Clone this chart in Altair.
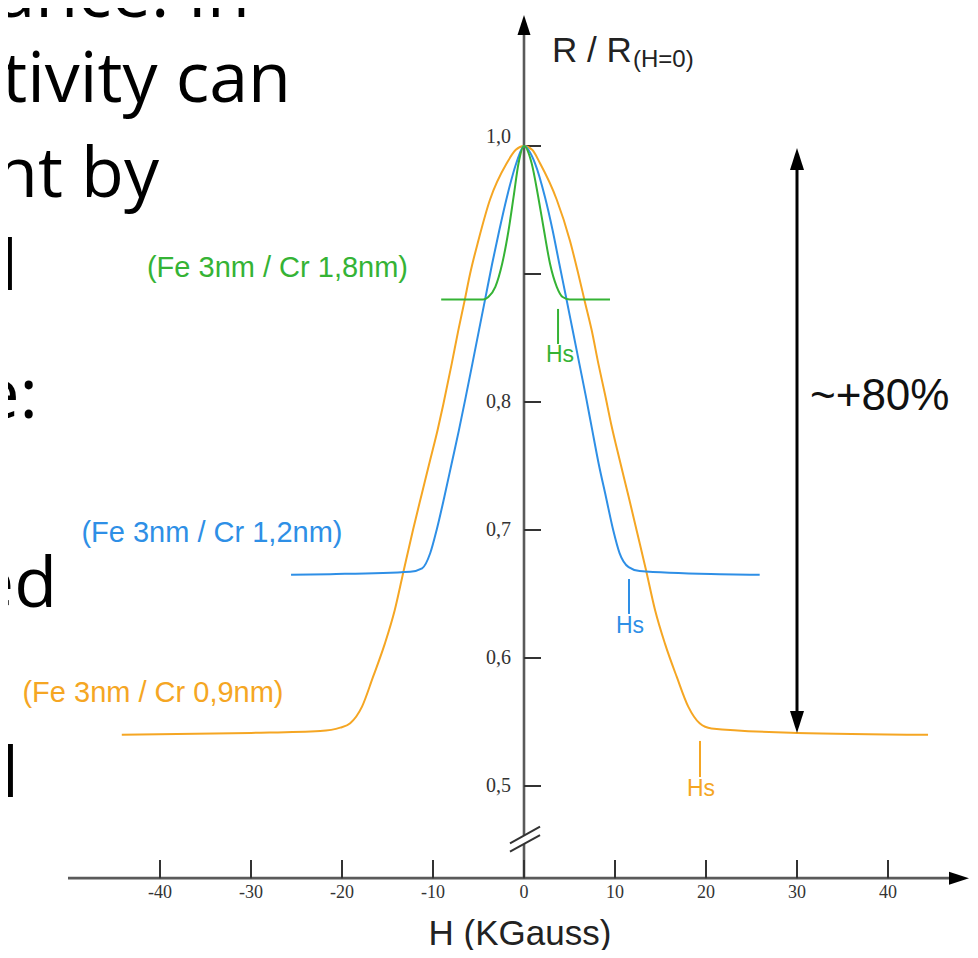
import altair as alt
import pandas as pd

# ---------------- data ----------------
SERIES = ["Cr 0,9nm", "Cr 1,2nm", "Cr 1,8nm"]
COLORS = ["#F5A623", "#2E8FE6", "#35B335"]

# (Fe 3nm / Cr 0,9nm)  orange
orange_H = [-44.2, -30.0, -22.4, -20.2, -19.1, -17.8, -16.6, -15.3, -14.2, -13.2, -12.2, -11.24,
            -10.3, -9.5, -8.87, -7.94, -7.22, -6.56, -5.93, -5.02, -3.74, -1.9, -0.9, 0.0,
            0.9, 1.76, 3.6, 5.05, 5.97, 6.7, 7.44, 8.17, 8.9, 9.6, 10.5, 11.5, 12.4, 13.4,
            14.4, 15.5, 16.8, 18.05, 19.3, 20.6, 30.0, 44.4]
orange_R = [0.540, 0.5415, 0.543, 0.5456, 0.549, 0.562, 0.585, 0.611, 0.6375, 0.669, 0.700, 0.728,
            0.755, 0.778, 0.798, 0.830, 0.856, 0.878, 0.900, 0.926, 0.958, 0.9865, 0.997, 1.0,
            0.997, 0.9865, 0.958, 0.926, 0.900, 0.878, 0.856, 0.830, 0.806, 0.782, 0.755, 0.726,
            0.699, 0.669, 0.6375, 0.611, 0.585, 0.562, 0.549, 0.545, 0.5415, 0.540]

# (Fe 3nm / Cr 1,2nm)  blue
blue_H = [-25.6, -21.3, -12.5, -11.2, -10.3, -9.6, -8.75, -7.95, -7.15, -6.4, -5.67, -4.95, -4.28,
          -3.5, -2.72, -1.88, -0.85, 0.0, 1.21, 2.31, 3.15, 3.88, 4.62, 5.35, 6.08, 6.81, 7.5,
          8.2, 9.0, 9.8, 10.5, 11.5, 12.7, 21.5, 25.9]
blue_R = [0.665, 0.6655, 0.6674, 0.670, 0.682, 0.700, 0.726, 0.752, 0.778, 0.804, 0.830, 0.856, 0.880,
          0.908, 0.934, 0.960, 0.9865, 1.0, 0.9865, 0.960, 0.934, 0.908, 0.882, 0.856, 0.830, 0.804,
          0.778, 0.752, 0.726, 0.700, 0.682, 0.671, 0.668, 0.6655, 0.665]

# (Fe 3nm / Cr 1,8nm)  green
green_H = [-9.1, -4.5, -3.92, -3.15, -2.4, -1.7, -1.15, -0.6, 0.0, 0.84, 1.57, 2.2, 2.86, 3.6, 4.25, 5.05, 9.45]
green_R = [0.880, 0.880, 0.882, 0.890, 0.908, 0.934, 0.960, 0.9865, 1.0, 0.9865, 0.960, 0.934, 0.908,
           0.890, 0.882, 0.880, 0.880]

series_labels = ["(Fe 3nm / Cr 0,9nm)", "(Fe 3nm / Cr 1,2nm)", "(Fe 3nm / Cr 1,8nm)"]
label_H = [-40.77, -34.29, -27.09]
label_R = [0.5727, 0.6977, 0.9047]

hs_H = [19.34, 11.54, 3.74]
hs_top_R = [0.5352, 0.6617, 0.8727]
hs_bot_R = [0.5070, 0.6344, 0.8453]
hs_text_H = [19.45, 11.65, 3.96]
hs_text_R = [0.4977, 0.625, 0.8367]

x_ticks = [-40, -30, -20, -10, 0, 10, 20, 30, 40]
x_tick_labels = ["-40", "-30", "-20", "-10", "0", "10", "20", "30", "40"]
y_ticks = [0.5, 0.6, 0.7, 0.8, 0.9, 1.0]
y_tick_labels = ["0,5", "0,6", "0,7", "0,8", "", "1,0"]
y_label_R = [0.5, 0.6, 0.7, 0.8, 0.9, 1.007]

# background slide text fragments (cut off at the left edge)
slide_text = ["ance. In", "tivity can", "nt by", "l", "e:", "ed", "l"]
slide_H = [-30.11, -25.60, -40.11, -55.60, -53.41, -51.32, -55.50]
slide_R = [1.1008, 1.0344, 0.9602, 0.8875, 0.7875, 0.6398, 0.4914]

# ---------------- scales ----------------
W, H_PX = 962, 942
X_DOMAIN = [(8 - 524) / 9.1, (8 + W - 524) / 9.1]
Y_DOMAIN = [1 - (8 + H_PX - 146) / 1280, 1 + (146 - 8) / 1280]
xs = alt.Scale(domain=X_DOMAIN, nice=False, zero=False)
ys = alt.Scale(domain=Y_DOMAIN, nice=False, zero=False)
color = alt.Color("series:N", scale=alt.Scale(domain=SERIES, range=COLORS), legend=None)


def X(f="H"):
    return alt.X(f"{f}:Q", scale=xs, axis=None)


def Y(f="R"):
    return alt.Y(f"{f}:Q", scale=ys, axis=None)


def pts(H, R, name):
    return pd.DataFrame({"H": H, "R": R, "series": name, "i": list(range(len(H)))})


curves = pd.concat([pts(orange_H, orange_R, SERIES[0]),
                    pts(blue_H, blue_R, SERIES[1]),
                    pts(green_H, green_R, SERIES[2])])

lines = alt.Chart(curves).mark_line(interpolate="monotone", strokeWidth=2).encode(
    x=X(), y=Y(), color=color, detail="series:N", order="i:Q")


def segs(rows):
    return pd.DataFrame(rows, columns=["H", "R", "H2", "R2"])


def rule_layer(df, **kw):
    return alt.Chart(df).mark_rule(**kw).encode(x=X("H"), y=Y("R"), x2="H2:Q", y2="R2:Q")


# axes lines
axis_df = segs([
    (-50.11, 0.428, 48.0, 0.428),      # x axis
    (0.0, 1.09, 0.0, 0.4617),          # y axis upper part
    (0.0, 0.4547, 0.0, 0.428),         # y axis below the break
])
axes = rule_layer(axis_df, color="#5a5a5a", strokeWidth=2.6)

tick_df = segs([(t, 0.428, t, 0.4422) for t in x_ticks] + [(0.0, v, 1.87, v) for v in y_ticks])
ticks = rule_layer(tick_df, color="#333333", strokeWidth=2)

break_df = segs([(-1.54, 0.4552, 1.76, 0.4682), (-1.54, 0.4487, 1.76, 0.4617)])
breaks = rule_layer(break_df, color="#333333", strokeWidth=2)

# Hs markers
hs_df = pd.DataFrame({"H": hs_H, "R": hs_top_R, "R2": hs_bot_R, "series": SERIES})
hs_rules = alt.Chart(hs_df).mark_rule(strokeWidth=2).encode(
    x=X("H"), y=Y("R"), y2="R2:Q", color=color)
hs_text_df = pd.DataFrame({"H": hs_text_H, "R": hs_text_R, "series": SERIES, "t": ["Hs"] * 3})
hs_text = alt.Chart(hs_text_df).mark_text(font="Liberation Sans", fontSize=23, align="center",
                                           baseline="middle").encode(
    x=X("H"), y=Y("R"), text="t:N", color=color)

# series labels
lab_df = pd.DataFrame({"H": label_H, "R": label_R, "series": SERIES, "t": series_labels})
labels = alt.Chart(lab_df).mark_text(font="Liberation Sans", fontSize=29, align="center",
                                     baseline="middle").encode(
    x=X("H"), y=Y("R"), text="t:N", color=color)

# arrow heads
up_df = pd.DataFrame({"H": [0.0], "R": [1.1023]})
up_arrow = alt.Chart(up_df).mark_point(shape="M0,0 L-0.65,2 L0.65,2 Z", size=400, filled=True,
                                       color="black", opacity=1).encode(x=X(), y=Y())
right_df = pd.DataFrame({"H": [48.9], "R": [0.428]})
right_arrow = alt.Chart(right_df).mark_point(shape="M0,0 L-2,-0.65 L-2,0.65 Z", size=400, filled=True,
                                             color="black", opacity=1).encode(x=X(), y=Y())

# ~+80% double arrow
gmr_df = segs([(30.0, 0.985, 30.0, 0.555)])
gmr_shaft = rule_layer(gmr_df, color="black", strokeWidth=3)
gmr_top = alt.Chart(pd.DataFrame({"H": [30.0], "R": [0.9984]})).mark_point(
    shape="M0,0 L-0.7,2.2 L0.7,2.2 Z", size=400, filled=True, color="black", opacity=1).encode(x=X(), y=Y())
gmr_bot = alt.Chart(pd.DataFrame({"H": [30.0], "R": [0.5414]})).mark_point(
    shape="M0,0 L-0.7,-2.2 L0.7,-2.2 Z", size=400, filled=True, color="black", opacity=1).encode(x=X(), y=Y())
gmr_text = alt.Chart(pd.DataFrame({"H": [31.43], "R": [0.8039], "t": ["~+80%"]})).mark_text(
    font="Liberation Sans", fontSize=44, align="left", baseline="middle", color="#111111").encode(
    x=X(), y=Y(), text="t:N")

# tick labels
xl_df = pd.DataFrame({"H": x_ticks, "R": [0.4164] * len(x_ticks), "t": x_tick_labels})
x_labels = alt.Chart(xl_df).mark_text(font="Liberation Serif", fontSize=18, align="center",
                                      baseline="middle", color="#333333").encode(
    x=X(), y=Y(), text="t:N")
yl_df = pd.DataFrame({"H": [-1.43] * len(y_ticks), "R": y_label_R, "t": y_tick_labels})
y_labels = alt.Chart(yl_df).mark_text(font="Liberation Serif", fontSize=20, align="right",
                                      baseline="middle", color="#333333").encode(
    x=X(), y=Y(), text="t:N")

# axis titles
ytitle_main = alt.Chart(pd.DataFrame({"H": [3.08], "R": [1.0656], "t": ["R / R"]})).mark_text(
    font="Liberation Sans", fontSize=35, align="left", baseline="alphabetic", color="#222222").encode(
    x=X(), y=Y(), text="t:N")
ytitle_sub = alt.Chart(pd.DataFrame({"H": [11.98], "R": [1.0617], "t": ["(H=0)"]})).mark_text(
    font="Liberation Sans", fontSize=24, align="left", baseline="alphabetic", color="#222222").encode(
    x=X(), y=Y(), text="t:N")
xtitle = alt.Chart(pd.DataFrame({"H": [-0.44], "R": [0.3758], "t": ["H (KGauss)"]})).mark_text(
    font="Liberation Sans", fontSize=35, align="center", baseline="alphabetic", color="#222222").encode(
    x=X(), y=Y(), text="t:N")

# slide text fragments
slide_df = pd.DataFrame({"H": slide_H, "R": slide_R, "t": slide_text})
slide = alt.Chart(slide_df).mark_text(font="Open Sans", fontSize=70, align="right",
                                      baseline="alphabetic", color="black").encode(
    x=X(), y=Y(), text="t:N")

chart = alt.layer(
    slide, axes, ticks, breaks, up_arrow, right_arrow,
    lines, hs_rules, hs_text, labels,
    gmr_shaft, gmr_top, gmr_bot, gmr_text,
    x_labels, y_labels, ytitle_main, ytitle_sub, xtitle,
).properties(
    width=W, height=H_PX, padding=0, autosize="none", background="white"
).configure_view(strokeWidth=0)

chart.save("out.html", embed_options={"renderer": "svg", "actions": False})
